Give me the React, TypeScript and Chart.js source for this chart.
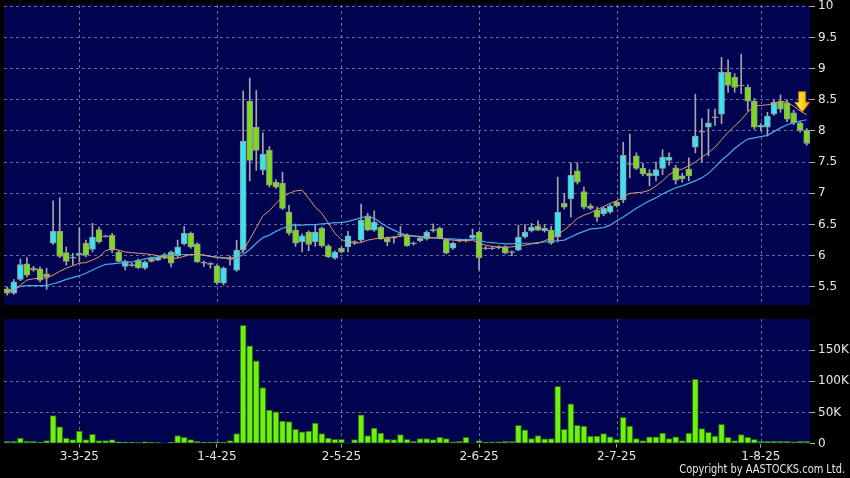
import React, { useEffect, useRef } from 'react';
import { Chart, registerables } from 'chart.js';
Chart.register(...registerables);

// ---- data ----
const open = [
  5.47, 5.40, 5.62, 5.87, 5.80, 5.79, 5.71, 6.20, 6.39, 6.05,
  5.97, 6.01, 6.20, 6.10, 6.42, 6.31, 6.33, 6.06, 5.83, 5.85,
  5.93, 5.80, 5.96, 5.93, 6.02, 6.06, 6.00, 6.19, 6.36, 6.19,
  5.89, 5.87, 5.84, 5.56, 5.95, 5.77, 6.09, 8.48, 8.06, 7.37,
  7.69, 7.18, 7.16, 6.70, 6.41, 6.22, 6.38, 6.22, 6.44, 6.16,
  5.96, 6.12, 6.14, 6.22, 6.25, 6.64, 6.41, 6.46, 6.28, 6.29,
  6.33, 6.33, 6.20, 6.24, 6.27, 6.41, 6.44, 6.25, 6.12, 6.25,
  6.25, 6.28, 6.38, 6.12, 6.12, 6.14, 6.14, 6.06, 6.09, 6.30,
  6.40, 6.48, 6.40, 6.41, 6.30, 6.84, 6.91, 7.36, 7.03, 6.80,
  6.73, 6.67, 6.70, 6.86, 6.89, 7.47, 7.60, 7.40, 7.32, 7.28,
  7.40, 7.53, 7.41, 7.28, 7.39, 7.74, 7.99, 8.06, 8.22, 8.27,
  8.94, 8.86, 8.73, 8.70, 8.48, 8.06, 8.06, 8.27, 8.47, 8.45,
  8.29, 8.13, 8.01,
];
const close = [
  5.40, 5.58, 5.86, 5.69, 5.77, 5.61, 5.66, 6.39, 5.99, 5.91,
  5.97, 6.04, 6.01, 6.30, 6.22, 6.31, 6.09, 5.91, 5.91, 5.85,
  5.81, 5.90, 5.91, 5.98, 5.96, 5.88, 6.14, 6.36, 6.14, 5.90,
  5.89, 5.87, 5.57, 5.80, 5.95, 6.09, 7.84, 7.53, 7.69, 7.63,
  7.13, 7.10, 6.76, 6.36, 6.20, 6.32, 6.18, 6.38, 6.16, 5.98,
  6.06, 6.06, 6.32, 6.22, 6.57, 6.41, 6.54, 6.27, 6.22, 6.29,
  6.35, 6.16, 6.20, 6.28, 6.38, 6.41, 6.28, 6.04, 6.20, 6.25,
  6.25, 6.33, 5.97, 6.12, 6.12, 6.13, 6.04, 6.06, 6.30, 6.38,
  6.46, 6.41, 6.44, 6.20, 6.70, 6.78, 7.29, 7.18, 6.78, 6.76,
  6.62, 6.76, 6.80, 6.80, 7.61, 7.47, 7.40, 7.31, 7.28, 7.38,
  7.58, 7.58, 7.21, 7.23, 7.28, 7.92, 7.99, 8.13, 8.22, 8.94,
  8.73, 8.70, 8.73, 8.48, 8.06, 8.09, 8.24, 8.46, 8.35, 8.19,
  8.13, 8.01, 7.80,
];
const high = [
  5.50, 5.62, 5.95, 5.97, 5.83, 5.82, 5.80, 6.88, 6.93, 6.14,
  6.04, 6.45, 6.25, 6.52, 6.46, 6.33, 6.36, 6.08, 5.93, 5.88,
  5.95, 5.92, 5.98, 6.00, 6.04, 6.08, 6.25, 6.47, 6.38, 6.21,
  5.92, 5.89, 5.86, 5.82, 6.00, 6.25, 8.64, 8.85, 8.65, 7.97,
  7.75, 7.22, 7.34, 6.81, 6.51, 6.35, 6.40, 6.49, 6.46, 6.18,
  6.08, 6.14, 6.39, 6.24, 6.83, 6.68, 6.72, 6.48, 6.30, 6.31,
  6.47, 6.35, 6.22, 6.30, 6.40, 6.51, 6.46, 6.27, 6.22, 6.27,
  6.27, 6.43, 6.40, 6.15, 6.14, 6.16, 6.16, 6.08, 6.49, 6.50,
  6.52, 6.56, 6.50, 6.47, 7.26, 7.00, 7.49, 7.49, 7.10, 6.83,
  6.78, 6.78, 6.82, 6.88, 7.82, 7.95, 7.65, 7.48, 7.38, 7.50,
  7.70, 7.65, 7.45, 7.32, 7.57, 8.59, 8.20, 8.35, 8.35, 9.18,
  9.14, 8.92, 9.23, 8.74, 8.52, 8.12, 8.30, 8.50, 8.58, 8.50,
  8.33, 8.16, 8.04,
];
const low = [
  5.37, 5.38, 5.60, 5.66, 5.75, 5.58, 5.46, 6.18, 5.97, 5.85,
  5.85, 5.90, 5.98, 6.06, 6.20, 6.30, 6.05, 5.90, 5.77, 5.83,
  5.79, 5.78, 5.90, 5.92, 5.95, 5.82, 5.97, 6.17, 6.12, 5.89,
  5.83, 5.80, 5.54, 5.53, 5.85, 5.75, 6.05, 7.20, 7.37, 7.30,
  7.10, 7.08, 6.74, 6.33, 6.15, 6.06, 6.08, 6.15, 6.14, 5.97,
  5.94, 6.05, 6.06, 6.18, 6.22, 6.40, 6.39, 6.26, 6.16, 6.20,
  6.31, 6.15, 6.17, 6.22, 6.25, 6.38, 6.27, 6.03, 6.10, 6.22,
  6.22, 6.26, 5.77, 6.10, 6.10, 6.11, 6.03, 6.00, 6.08, 6.28,
  6.38, 6.40, 6.38, 6.18, 6.22, 6.75, 6.62, 7.15, 6.75, 6.74,
  6.55, 6.64, 6.68, 6.78, 6.85, 7.25, 7.38, 7.28, 7.12, 7.20,
  7.30, 7.45, 7.15, 7.18, 7.20, 7.65, 7.50, 7.60, 8.09, 8.12,
  8.62, 8.62, 8.60, 8.32, 8.03, 8.00, 7.92, 8.25, 8.30, 8.15,
  8.10, 7.98, 7.77,
];
const maFast = [
  5.43, 5.45, 5.53, 5.61, 5.63, 5.64, 5.64, 5.69, 5.75, 5.80,
  5.84, 5.88, 5.89, 5.93, 5.98, 6.08, 6.11, 6.09, 6.06, 6.05,
  6.04, 6.03, 6.02, 6.00, 5.97, 5.96, 5.96, 5.99, 6.02, 6.02,
  6.01, 5.99, 5.97, 5.96, 5.96, 5.98, 6.08, 6.26, 6.45, 6.64,
  6.72, 6.84, 6.94, 7.00, 7.04, 7.05, 6.92, 6.78, 6.68, 6.52,
  6.36, 6.26, 6.22, 6.20, 6.21, 6.25, 6.27, 6.28, 6.29, 6.30,
  6.31, 6.33, 6.32, 6.31, 6.30, 6.29, 6.28, 6.26, 6.25, 6.24,
  6.24, 6.25, 6.20, 6.17, 6.15, 6.14, 6.14, 6.14, 6.16, 6.17,
  6.19, 6.20, 6.24, 6.28, 6.34, 6.41, 6.50, 6.60, 6.65, 6.69,
  6.74, 6.79, 6.84, 6.88, 6.94, 7.00, 7.01, 7.02, 7.05, 7.12,
  7.20, 7.30, 7.36, 7.39, 7.44, 7.50, 7.58, 7.65, 7.74, 7.86,
  7.98, 8.08, 8.18, 8.30, 8.40, 8.41, 8.42, 8.44, 8.48, 8.46,
  8.40, 8.32, 8.26,
];
const maSlow = [
  5.43, 5.45, 5.51, 5.52, 5.52, 5.52, 5.52, 5.55, 5.58, 5.62,
  5.65, 5.68, 5.72, 5.77, 5.82, 5.86, 5.87, 5.88, 5.89, 5.90,
  5.92, 5.95, 5.97, 5.98, 6.00, 6.01, 6.02, 6.02, 6.02, 6.02,
  6.01, 5.99, 5.98, 5.97, 5.96, 5.96, 6.02, 6.10, 6.20, 6.29,
  6.33, 6.39, 6.44, 6.47, 6.49, 6.49, 6.50, 6.50, 6.51, 6.52,
  6.53, 6.53, 6.55, 6.58, 6.61, 6.63, 6.60, 6.53, 6.46, 6.41,
  6.36, 6.33, 6.31, 6.30, 6.29, 6.28, 6.28, 6.27, 6.27, 6.26,
  6.26, 6.26, 6.25, 6.22, 6.21, 6.20, 6.19, 6.19, 6.20, 6.20,
  6.20, 6.21, 6.22, 6.23, 6.24, 6.25, 6.30, 6.35, 6.39, 6.43,
  6.44, 6.45, 6.49, 6.56, 6.62, 6.69, 6.76, 6.82, 6.88, 6.93,
  6.99, 7.04, 7.09, 7.12, 7.16, 7.20, 7.25, 7.32, 7.42, 7.53,
  7.62, 7.72, 7.80, 7.87, 7.89, 7.91, 7.93, 7.99, 8.05, 8.10,
  8.13, 8.16, 8.18,
];
const volume = [
  3800, 3800, 9000, 4000, 4000, 2000, 5000, 45000, 27000, 9000,
  6500, 20000, 6500, 15000, 5000, 5000, 6500, 3000, 2000, 2000,
  1500, 3000, 2000, 1500, 1000, 2000, 13000, 10000, 6500, 4000,
  2000, 2000, 3000, 2000, 5000, 16000, 190000, 157000, 133000, 90000,
  54000, 51000, 36000, 35500, 23000, 19000, 20000, 33000, 16000, 9000,
  7000, 7000, 500, 6500, 46000, 13000, 25000, 17000, 7000, 6500,
  14500, 7000, 4000, 8000, 8000, 6500, 10000, 8000, 2700, 3800,
  10000, 1000, 5000, 2000, 2700, 2700, 3800, 3500, 29500, 22000,
  8000, 13000, 7500, 8000, 92000, 23000, 64000, 29500, 28000, 12000,
  12000, 16000, 11000, 7000, 42000, 28000, 8000, 5000, 11000, 11000,
  17000, 8000, 11000, 5000, 17000, 103000, 24000, 18000, 12000, 31000,
  10000, 5000, 14500, 10000, 7000, 3800, 3800, 3800, 3800, 3800,
  2700, 3800, 3800,
];
const tickIndices = [11, 32, 51, 72, 93, 115];
const tickLabels = ['3-3-25', '1-4-25', '2-5-25', '2-6-25', '2-7-25', '1-8-25'];
const priceTicks = [5.5, 6, 6.5, 7, 7.5, 8, 8.5, 9, 9.5, 10];
const volumeTicks = [0, 50000, 100000, 150000];
const arrowIndex = 121;
const arrowTipPrice = 8.3;
const arrowTopPrice = 8.63;

// ---- styles ----
const NAVY = '#00034f';
const GRID = 'rgba(140,140,175,0.75)';
const UP = 'rgb(55,228,242)';
const DOWN = 'rgb(122,218,32)';
const EDGE = 'rgb(150,150,150)';
const WICK = 'rgb(165,165,165)';
const TXT = '#e6e6e6';
const FONT = 'DejaVu Sans';

const noPad = (axis: any) => {
  axis.width = 40;
  axis.paddingTop = 0;
  axis.paddingBottom = 0;
};

const navyBg = {
  id: 'navyBg',
  beforeDraw(chart: any) {
    const { ctx, chartArea: a } = chart;
    ctx.save();
    ctx.fillStyle = NAVY;
    ctx.fillRect(a.left, a.top, a.right - a.left, a.bottom - a.top);
    ctx.restore();
  },
};
const vGrid = {
  id: 'vGrid',
  beforeDatasetsDraw(chart: any) {
    const { ctx, chartArea: a, scales } = chart;
    ctx.save();
    ctx.strokeStyle = GRID;
    ctx.lineWidth = 1;
    ctx.setLineDash([3, 3]);
    tickIndices.forEach((i) => {
      const x = Math.round(scales.x.getPixelForValue(i)) + 0.5;
      ctx.beginPath();
      ctx.moveTo(x, a.top);
      ctx.lineTo(x, a.bottom);
      ctx.stroke();
    });
    ctx.restore();
  },
};
const arrowPlugin = {
  id: 'arrowMark',
  afterDatasetsDraw(chart: any) {
    const { ctx, scales } = chart;
    const x = scales.x.getPixelForValue(arrowIndex) + 2;
    const tip = scales.y.getPixelForValue(arrowTipPrice);
    const top = scales.y.getPixelForValue(arrowTopPrice);
    const headH = 10;
    ctx.save();
    ctx.beginPath();
    ctx.moveTo(x - 3.5, top);
    ctx.lineTo(x + 3.5, top);
    ctx.lineTo(x + 3.5, tip - headH);
    ctx.lineTo(x + 7.5, tip - headH);
    ctx.lineTo(x, tip);
    ctx.lineTo(x - 7.5, tip - headH);
    ctx.lineTo(x - 3.5, tip - headH);
    ctx.closePath();
    const g = ctx.createLinearGradient(x - 7, 0, x + 7, 0);
    g.addColorStop(0, '#ffe680');
    g.addColorStop(0.5, '#ffd21f');
    g.addColorStop(1, '#f0a800');
    ctx.fillStyle = g;
    ctx.fill();
    ctx.strokeStyle = '#b87800';
    ctx.lineWidth = 1;
    ctx.stroke();
    ctx.restore();
  },
};

export default function App() {
  const priceRef = useRef<HTMLCanvasElement>(null);
  const volRef = useRef<HTMLCanvasElement>(null);

  useEffect(() => {
    const labels = open.map((_, i) => String(i));
    const doji = open.map((o, i) => o === close[i]);
    const bodies = open.map((o, i) =>
      doji[i] ? [o - 0.008, o + 0.008] : [Math.min(o, close[i]), Math.max(o, close[i])]
    );
    const bodyColors = open.map((o, i) => (doji[i] ? WICK : close[i] > o ? UP : DOWN));
    const wicks = low.map((l, i) => [l, high[i]]);

    const priceChart = new Chart(priceRef.current as HTMLCanvasElement, {
      type: 'bar',
      data: {
        labels,
        datasets: [
          {
            type: 'line',
            data: maFast,
            borderColor: 'rgb(230,150,105)',
            borderWidth: 1,
            pointRadius: 0,
            tension: 0,
            order: 1,
          } as any,
          {
            type: 'line',
            data: maSlow,
            borderColor: 'rgb(70,170,235)',
            borderWidth: 1.2,
            pointRadius: 0,
            tension: 0,
            order: 1,
          } as any,
          {
            data: bodies as any,
            backgroundColor: bodyColors,
            borderColor: EDGE,
            borderWidth: 1,
            borderSkipped: false,
            barThickness: 6,
            grouped: false,
            order: 2,
          },
          {
            data: wicks as any,
            backgroundColor: WICK,
            borderWidth: 0,
            barThickness: 1,
            grouped: false,
            order: 3,
          },
        ],
      },
      options: {
        responsive: false,
        animation: false,
        events: [],
        layout: { padding: { left: 4, top: 5, right: 0, bottom: 5 } },
        plugins: { legend: { display: false }, tooltip: { enabled: false } },
        scales: {
          x: { type: 'category', display: false, offset: true },
          y: {
            position: 'right',
            min: 5.21,
            max: 10.02,
            afterBuildTicks: (axis: any) => {
              axis.ticks = priceTicks.map((v) => ({ value: v }));
            },
            afterFit: noPad,
            border: { display: false, dash: [3, 3] },
            grid: {
              color: GRID,
              tickColor: 'rgb(170,170,170)',
              tickLength: 5,
              tickBorderDash: [],
            },
            ticks: {
              color: TXT,
              font: { family: FONT, size: 12 },
              padding: 3,
              callback: (v: any) => String(v),
            },
          },
        },
      },
      plugins: [navyBg, vGrid, arrowPlugin],
    } as any);

    const volChart = new Chart(volRef.current as HTMLCanvasElement, {
      type: 'bar',
      data: {
        labels,
        datasets: [
          {
            data: volume,
            backgroundColor: 'rgb(110,240,20)',
            borderColor: 'rgb(40,105,0)',
            borderWidth: 1,
            borderSkipped: false,
            barThickness: 6,
          },
        ],
      },
      options: {
        responsive: false,
        animation: false,
        events: [],
        layout: { padding: { left: 4, top: 9, right: 0, bottom: 12 } },
        plugins: { legend: { display: false }, tooltip: { enabled: false } },
        scales: {
          x: {
            type: 'category',
            offset: true,
            border: { display: false },
            afterFit: (axis: any) => {
              axis.paddingLeft = 0;
              axis.paddingRight = 0;
            },
            grid: {
              offset: false,
              drawOnChartArea: false,
              tickLength: 4,
              tickColor: (c: any) =>
                tickIndices.includes(c.index) ? 'rgb(170,170,170)' : 'transparent',
            },
            ticks: {
              autoSkip: false,
              maxRotation: 0,
              color: TXT,
              font: { family: FONT, size: 12 },
              padding: 2,
              callback: (_v: any, i: number) => {
                const k = tickIndices.indexOf(i);
                return k >= 0 ? tickLabels[k] : '';
              },
            },
          },
          y: {
            position: 'right',
            min: 0,
            max: 200000,
            afterBuildTicks: (axis: any) => {
              axis.ticks = volumeTicks.map((v) => ({ value: v }));
            },
            afterFit: noPad,
            border: { display: false, dash: [3, 3] },
            grid: {
              color: (c: any) => (c.tick && c.tick.value === 0 ? 'transparent' : GRID),
              tickColor: 'rgb(170,170,170)',
              tickLength: 5,
              tickBorderDash: [],
            },
            ticks: {
              color: TXT,
              font: { family: FONT, size: 12 },
              padding: 3,
              callback: (v: any) => (v === 0 ? '0' : v / 1000 + 'K'),
            },
          },
        },
      },
      plugins: [navyBg, vGrid],
    } as any);

    return () => {
      priceChart.destroy();
      volChart.destroy();
    };
  }, []);

  return (
    <div
      style={{
        position: 'absolute',
        left: 0,
        top: 0,
        width: 850,
        height: 478,
        background: '#000',
        overflow: 'hidden',
      }}
    >
      <canvas ref={priceRef} width={850} height={310} style={{ position: 'absolute', left: 0, top: 0 }} />
      <canvas ref={volRef} width={850} height={168} style={{ position: 'absolute', left: 0, top: 310 }} />
      <div
        style={{
          position: 'absolute',
          right: 5,
          top: 462,
          color: TXT,
          font: '12px "DejaVu Sans"',
          whiteSpace: 'nowrap',
          transform: 'scaleX(0.82)',
          transformOrigin: 'right center',
        }}
      >
        Copyright by AASTOCKS.com Ltd.
      </div>
    </div>
  );
}
